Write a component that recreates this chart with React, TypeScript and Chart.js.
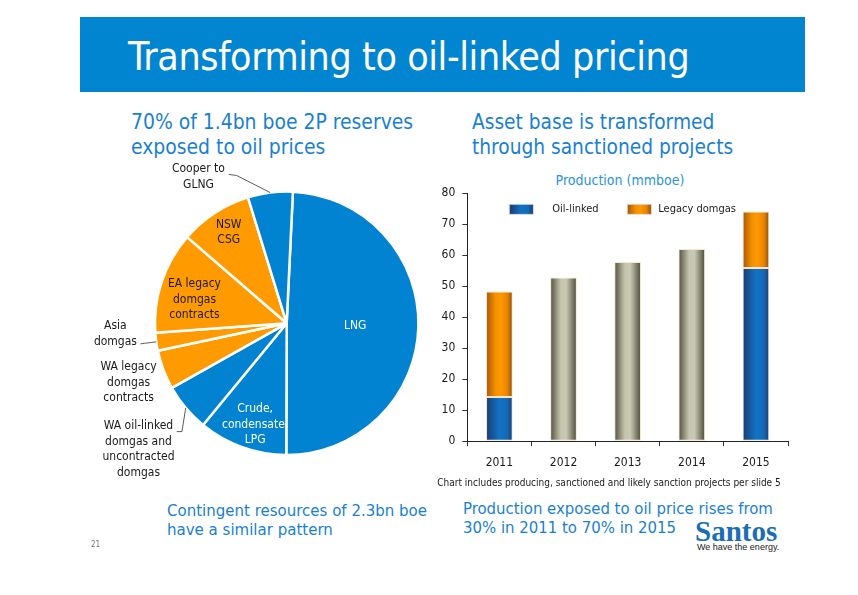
import React, { useEffect, useRef } from "react";
import { Chart, registerables } from "chart.js";

Chart.register(...registerables);

const FONT = '"DejaVu Sans Condensed", "DejaVu Sans", sans-serif';
const BLUE_TEXT = "#1a7fd2";

// 2P reserves split (%), clockwise from 12 o'clock
const reserveLabels = [
  "LNG",
  "Crude, condensate, LPG",
  "WA oil-linked domgas and uncontracted domgas",
  "WA legacy domgas contracts",
  "Asia domgas",
  "EA legacy domgas contracts",
  "NSW CSG",
  "Cooper to GLNG",
];
const reserveShares = [49.3, 10.9, 5.9, 4.8, 2.2, 12.5, 8.9, 5.5];
const reserveOilLinked = [true, true, true, false, false, false, false, true];

// Production (mmboe)
const years = ["2011", "2012", "2013", "2014", "2015"];
const oilLinked = [14.3, null, null, null, 55.9];
const legacyDomgas = [34.0, null, null, null, 18.2];
const totalProduction = [null, 52.8, 57.8, 62.0, null];
const yMax = 80;
const yStep = 10;

// Text placement for each slice, offsets in units of the pie radius
const sliceText = [
  { lines: ["LNG"], dx: 0.52, dy: 0.02, color: "#ffffff" },
  { lines: ["Crude,", "condensate,", "LPG"], dx: -0.24, dy: 0.77, color: "#ffffff" },
  {
    lines: ["WA oil-linked", "domgas and", "uncontracted", "domgas"],
    dx: -1.125, dy: 0.956, color: "#1a1a1a",
    leader: [[-0.835, 0.822], [-0.795, 0.822]],
  },
  { lines: ["WA legacy", "domgas", "contracts"], dx: -1.2, dy: 0.45, color: "#1a1a1a" },
  {
    lines: ["Asia", "domgas"], dx: -1.3, dy: 0.08, color: "#1a1a1a",
    leader: [[-1.11, 0.156], [-1.08, 0.152]],
  },
  { lines: ["EA legacy", "domgas", "contracts"], dx: -0.7, dy: -0.18, color: "#1a1a1a" },
  { lines: ["NSW", "CSG"], dx: -0.44, dy: -0.69, color: "#1a1a1a" },
  {
    lines: ["Cooper to", "GLNG"], dx: -0.67, dy: -1.11, color: "#1a1a1a",
    leader: [[-0.44, -1.13], [-0.38, -1.122]],
  },
];

const pieTextPlugin = {
  id: "pieText",
  afterDatasetsDraw(chart: any) {
    const arcs = chart.getDatasetMeta(0).data;
    const ctx = chart.ctx;
    ctx.save();
    ctx.font = `12px ${FONT}`;
    ctx.textAlign = "center";
    ctx.textBaseline = "middle";
    const lh = 15.6;
    sliceText.forEach((lab, i) => {
      const arc = arcs[i];
      if (!arc) return;
      const { x, y, outerRadius: r, startAngle, endAngle } = arc.getProps(
        ["x", "y", "outerRadius", "startAngle", "endAngle"],
        true
      );
      const cx = x + lab.dx * r;
      const cy = y + lab.dy * r;
      ctx.fillStyle = lab.color;
      lab.lines.forEach((t, k) => {
        ctx.fillText(t, cx, cy + (k - (lab.lines.length - 1) / 2) * lh);
      });
      if (lab.leader) {
        const mid = (startAngle + endAngle) / 2;
        ctx.beginPath();
        ctx.strokeStyle = "#333333";
        ctx.lineWidth = 0.8;
        ctx.moveTo(x + lab.leader[0][0] * r, y + lab.leader[0][1] * r);
        ctx.lineTo(x + lab.leader[1][0] * r, y + lab.leader[1][1] * r);
        ctx.lineTo(x + Math.cos(mid) * r, y + Math.sin(mid) * r);
        ctx.stroke();
      }
    });
    ctx.restore();
  },
};

type Stops = [number, string][];
const BLUE_STOPS: Stops = [
  [0, "#1a3c6e"],
  [0.5, "#1273c6"],
  [0.78, "#1569b8"],
  [1, "#1b3f70"],
];
const ORANGE_STOPS: Stops = [
  [0, "#a85408"],
  [0.35, "#f39100"],
  [0.55, "#ff9900"],
  [0.8, "#e88400"],
  [1, "#8c4a10"],
];
const GREY_STOPS: Stops = [
  [0, "#4f4f3c"],
  [0.4, "#c6c6b0"],
  [0.6, "#c9c9b3"],
  [1, "#4a4a38"],
];

const CAT_PCT = 1;
const BAR_PCT = 0.416;

function barGradient(stops: Stops) {
  return (context: any) => {
    const chart = context.chart;
    const xs = chart.scales?.x;
    if (!xs || !chart.chartArea) return stops[2][1];
    const center = xs.getPixelForValue(context.dataIndex);
    const half = ((xs.width / years.length) * CAT_PCT * BAR_PCT) / 2;
    const g = chart.ctx.createLinearGradient(center - half, 0, center + half, 0);
    stops.forEach(([o, c]) => g.addColorStop(o, c));
    return g;
  };
}

const legendItems = [
  { text: "Oil-linked", stops: BLUE_STOPS, box: 42, label: 85 },
  { text: "Legacy domgas", stops: ORANGE_STOPS, box: 160, label: 191 },
];

const barLegendPlugin = {
  id: "barLegend",
  afterDraw(chart: any) {
    const { ctx, chartArea } = chart;
    ctx.save();
    const top = chartArea.top + 11;
    legendItems.forEach((it) => {
      const bx = chartArea.left + it.box;
      const g = ctx.createLinearGradient(bx, 0, bx + 24, 0);
      it.stops.forEach(([o, c]) => g.addColorStop(o, c));
      ctx.fillStyle = g;
      ctx.fillRect(bx, top, 24, 10);
      ctx.strokeStyle = "rgba(230,220,230,0.9)";
      ctx.lineWidth = 0.8;
      ctx.strokeRect(bx, top, 24, 10);
      ctx.fillStyle = "#1a1a1a";
      ctx.font = `11px ${FONT}`;
      ctx.textAlign = "left";
      ctx.textBaseline = "middle";
      ctx.fillText(it.text, chartArea.left + it.label, top + 5);
    });
    ctx.restore();
  },
};

function Txt(props: {
  x: number;
  y: number;
  size: number;
  color: string;
  lh?: number;
  weight?: string;
  family?: string;
  spacing?: number;
  center?: boolean;
  children: React.ReactNode;
}) {
  const lh = props.lh ?? props.size * 1.25;
  return (
    <div
      style={{
        position: "absolute",
        left: props.center ? props.x - 200 : props.x,
        width: props.center ? 400 : undefined,
        textAlign: props.center ? "center" : "left",
        top: props.y - lh / 2,
        fontSize: props.size,
        lineHeight: `${lh}px`,
        color: props.color,
        fontWeight: props.weight ?? "normal",
        fontFamily: props.family ?? FONT,
        letterSpacing: props.spacing ?? 0,
        whiteSpace: "nowrap",
      }}
    >
      {props.children}
    </div>
  );
}

export default function App() {
  const pieRef = useRef<HTMLCanvasElement>(null);
  const barRef = useRef<HTMLCanvasElement>(null);

  useEffect(() => {
    const pie = new Chart(pieRef.current!, {
      type: "pie",
      data: {
        labels: reserveLabels,
        datasets: [
          {
            data: reserveShares,
            backgroundColor: reserveOilLinked.map((o) => (o ? "#0283d2" : "#ff9a00")),
            borderColor: "#ffffff",
            borderWidth: 2.5,
          },
        ],
      },
      options: {
        responsive: false,
        animation: false,
        rotation: 2.7,
        layout: { padding: { left: 73.7, top: 35.3, right: 10.3, bottom: 38.7 } },
        plugins: { legend: { display: false }, tooltip: { enabled: false } },
      },
      plugins: [pieTextPlugin],
    });

    const bar = new Chart(barRef.current!, {
      type: "bar",
      data: {
        labels: years,
        datasets: [
          {
            label: "Oil-linked",
            data: oilLinked,
            backgroundColor: barGradient(BLUE_STOPS),
          },
          {
            label: "Legacy domgas",
            data: legacyDomgas,
            backgroundColor: barGradient(ORANGE_STOPS),
          },
          {
            label: "Production",
            data: totalProduction,
            backgroundColor: barGradient(GREY_STOPS),
          },
        ],
      },
      options: {
        responsive: false,
        animation: false,
        datasets: {
          bar: {
            categoryPercentage: CAT_PCT,
            barPercentage: BAR_PCT,
            borderColor: "rgba(250,225,200,0.9)",
            borderWidth: 1,
            borderSkipped: false,
          },
        },
        layout: { padding: { left: 0, right: 12, top: 28.3, bottom: 0 } },
        scales: {
          x: {
            stacked: true,
            grid: {
              display: true,
              offset: true,
              drawOnChartArea: false,
              drawTicks: true,
              tickLength: 5,
              color: "#333333",
            },
            border: { color: "#222222", width: 1 },
            ticks: { color: "#1a1a1a", font: { family: FONT, size: 12 }, padding: 9 },
            afterFit: (s: any) => {
              s.height = 33.8;
            },
          },
          y: {
            stacked: true,
            min: 0,
            max: yMax,
            grid: {
              display: true,
              drawOnChartArea: false,
              drawTicks: true,
              tickLength: 5,
              color: "#333333",
            },
            border: { color: "#222222", width: 1 },
            ticks: {
              stepSize: yStep,
              color: "#1a1a1a",
              font: { family: FONT, size: 12 },
              padding: 7,
            },
            afterFit: (s: any) => {
              s.width = 37.3;
            },
          },
        },
        plugins: {
          legend: { display: false },
          tooltip: { enabled: false },
          title: { display: false },
          subtitle: {
            display: true,
            position: "bottom",
            text: "Chart includes producing, sanctioned and likely sanction projects per slide 5",
            color: "#1a1a1a",
            font: { family: FONT, size: 10 },
            padding: { top: 2, bottom: 6 },
          },
        },
      },
      plugins: [barLegendPlugin],
    });

    return () => {
      pie.destroy();
      bar.destroy();
    };
  }, []);

  return (
    <div
      style={{
        position: "absolute",
        left: 0,
        top: 0,
        width: 858,
        height: 595,
        background: "#ffffff",
        overflow: "hidden",
        fontFamily: FONT,
      }}
    >
      <div
        style={{
          position: "absolute",
          left: 80,
          top: 17,
          width: 725,
          height: 75,
          background: "#0285d0",
        }}
      />
      <Txt x={128} y={57} size={39} color="#ffffff" lh={46} spacing={-0.4}>
        Transforming to oil-linked pricing
      </Txt>

      <Txt x={131} y={122} size={20.9} color={BLUE_TEXT} lh={25}>
        70% of 1.4bn boe 2P reserves
      </Txt>
      <Txt x={131} y={147} size={20.9} color={BLUE_TEXT} lh={25}>
        exposed to oil prices
      </Txt>
      <Txt x={472} y={122} size={20.7} color={BLUE_TEXT} lh={25}>
        Asset base is transformed
      </Txt>
      <Txt x={472} y={147} size={20.7} color={BLUE_TEXT} lh={25}>
        through sanctioned projects
      </Txt>

      <Txt x={620} y={180} size={14} color="#2a93df" lh={18} center>
        Production (mmboe)
      </Txt>

      <canvas
        ref={pieRef}
        width={350}
        height={340}
        style={{ position: "absolute", left: 80, top: 155, width: 350, height: 340 }}
      />
      <canvas
        ref={barRef}
        width={370}
        height={330}
        style={{ position: "absolute", left: 430, top: 165, width: 370, height: 330 }}
      />

      <Txt x={167} y={510} size={16.7} color={BLUE_TEXT} lh={20}>
        Contingent resources of 2.3bn boe
      </Txt>
      <Txt x={167} y={529} size={16.7} color={BLUE_TEXT} lh={20}>
        have a similar pattern
      </Txt>
      <Txt x={463} y={509} size={16.6} color={BLUE_TEXT} lh={20}>
        Production exposed to oil price rises from
      </Txt>
      <Txt x={463} y={528} size={16.6} color={BLUE_TEXT} lh={20}>
        30% in 2011 to 70% in 2015
      </Txt>

      <Txt x={91} y={545} size={8} color="#777777" lh={10}>
        21
      </Txt>

      <Txt
        x={695}
        y={531}
        size={29}
        color="#1c6db4"
        lh={32}
        weight="bold"
        family='"Liberation Serif", "DejaVu Serif", serif'
      >
        Santos
      </Txt>
      <Txt x={697} y={547} size={9} color="#222222" lh={12} family='"Liberation Sans", Arial, sans-serif'>
        We have the energy.
      </Txt>
    </div>
  );
}
